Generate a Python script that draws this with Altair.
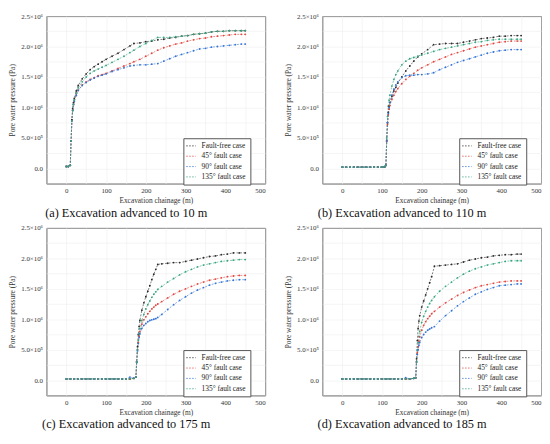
import altair as alt
import pandas as pd

FONT = "Liberation Serif"
CASES = ["Fault-free case", "45° fault case", "90° fault case", "135° fault case"]
COLORS = ["#2b2b2b", "#e2463f", "#3374d6", "#35a57c"]

# ---------- (a) Excavation advanced to 10 m ----------
XA = [0, 5, 10, 12, 14, 16, 18, 20, 25, 30, 40, 50, 60, 70, 80, 90, 100,
      115, 130, 145, 160, 170, 185, 200, 215, 230, 245, 260, 275, 290, 305,
      320, 335, 350, 365, 380, 395, 410, 425, 440, 450]
A_FREE = [0.03, 0.03, 0.05, 0.45, 0.80, 0.98, 1.08, 1.15, 1.27, 1.36,
          1.47, 1.55, 1.62, 1.67, 1.71, 1.75, 1.79,
          1.84, 1.89, 1.95, 2.01, 2.05, 2.06, 2.08,
          2.09, 2.11, 2.12, 2.14, 2.15, 2.17, 2.18,
          2.20, 2.21, 2.22, 2.24, 2.25, 2.25, 2.26,
          2.26, 2.26, 2.26]
A_45 = [0.03, 0.03, 0.05, 0.45, 0.78, 0.95, 1.05, 1.10, 1.20, 1.28,
        1.37, 1.42, 1.46, 1.49, 1.52, 1.54, 1.56,
        1.60, 1.64, 1.68, 1.72, 1.75, 1.79, 1.84,
        1.89, 1.94, 1.98, 2.01, 2.04, 2.06, 2.09,
        2.11, 2.13, 2.14, 2.16, 2.17, 2.18, 2.19,
        2.20, 2.20, 2.20]
A_90 = [0.03, 0.03, 0.05, 0.45, 0.78, 0.95, 1.05, 1.10, 1.20, 1.28,
        1.36, 1.41, 1.45, 1.48, 1.51, 1.53, 1.55,
        1.59, 1.62, 1.65, 1.68, 1.69, 1.70, 1.70,
        1.71, 1.72, 1.76, 1.80, 1.84, 1.87, 1.90,
        1.93, 1.96, 1.97, 1.99, 2.00, 2.01, 2.02,
        2.03, 2.04, 2.04]
A_135 = [0.03, 0.03, 0.05, 0.45, 0.78, 0.95, 1.05, 1.12, 1.24, 1.32,
         1.42, 1.50, 1.56, 1.60, 1.63, 1.66, 1.69,
         1.74, 1.79, 1.84, 1.90, 1.94, 2.00, 2.05,
         2.10, 2.15, 2.15, 2.15, 2.16, 2.17, 2.18,
         2.20, 2.21, 2.22, 2.24, 2.25, 2.25, 2.26,
         2.26, 2.26, 2.26]

# ---------- (b) Excavation advanced to 110 m ----------
XB = [0, 10, 20, 30, 40, 50, 60, 70, 80, 90, 100,
      105, 108, 110, 112, 114, 116, 118, 120,
      125, 130, 135, 140,
      150, 160, 170, 180, 190, 200,
      215, 230, 245, 260, 275, 290, 305, 320,
      335, 350, 365, 380, 395, 410, 425, 440, 450]
B_FREE = [0.02, 0.02, 0.02, 0.02, 0.02, 0.02, 0.02, 0.02, 0.02, 0.02, 0.02,
          0.025, 0.03, 0.05, 0.45, 0.75, 0.92, 1.02, 1.08,
          1.18, 1.27, 1.33, 1.40,
          1.50, 1.60, 1.68, 1.76, 1.83, 1.88,
          1.95, 2.03, 2.04, 2.05, 2.05, 2.05, 2.07, 2.09,
          2.11, 2.13, 2.14, 2.15, 2.17, 2.17, 2.18, 2.18, 2.18]
B_45 = [0.02, 0.02, 0.02, 0.02, 0.02, 0.02, 0.02, 0.02, 0.02, 0.02, 0.02,
        0.025, 0.03, 0.05, 0.45, 0.72, 0.88, 0.97, 1.03,
        1.13, 1.20, 1.26, 1.31,
        1.39, 1.46, 1.51, 1.56, 1.61, 1.65,
        1.70, 1.75, 1.79, 1.83, 1.87, 1.90, 1.93, 1.96,
        1.99, 2.01, 2.03, 2.05, 2.07, 2.08, 2.09, 2.09, 2.09]
B_90 = [0.02, 0.02, 0.02, 0.02, 0.02, 0.02, 0.02, 0.02, 0.02, 0.02, 0.02,
        0.025, 0.03, 0.05, 0.45, 0.75, 0.90, 1.00, 1.08,
        1.20, 1.30, 1.37, 1.42,
        1.49, 1.52, 1.53, 1.53, 1.54, 1.54,
        1.55, 1.57, 1.62, 1.66, 1.70, 1.74, 1.77, 1.80,
        1.83, 1.86, 1.89, 1.91, 1.93, 1.94, 1.95, 1.95, 1.95]
B_135 = [0.02, 0.02, 0.02, 0.02, 0.02, 0.02, 0.02, 0.02, 0.02, 0.02, 0.02,
         0.025, 0.03, 0.05, 0.50, 0.85, 1.02, 1.12, 1.20,
         1.35, 1.46, 1.54, 1.60,
         1.70, 1.76, 1.80, 1.82, 1.84, 1.86,
         1.89, 1.92, 1.95, 1.97, 1.99, 2.01, 2.03, 2.05,
         2.07, 2.08, 2.10, 2.11, 2.12, 2.12, 2.12, 2.12, 2.12]

# ---------- (c) Excavation advanced to 175 m ----------
XC = [0, 10, 20, 30, 40, 50, 60, 70, 80, 90, 100, 110, 120, 130, 140, 150, 160, 170,
      175, 177, 179, 181, 183, 185, 190, 195, 200, 205, 210, 215, 220, 225, 230,
      240, 255, 270, 285, 300, 315, 330, 345, 360, 375, 390, 405, 420, 435, 450]
C_FREE = [0.02, 0.02, 0.02, 0.02, 0.02, 0.02, 0.02, 0.02, 0.02, 0.02, 0.02, 0.02, 0.02, 0.02, 0.02, 0.02, 0.02, 0.03,
          0.05, 0.30, 0.55, 0.75, 0.88, 0.98, 1.15, 1.27, 1.37, 1.46, 1.55, 1.65, 1.74, 1.82, 1.90,
          1.91, 1.92, 1.93, 1.93, 1.95, 1.97, 1.99, 2.01, 2.03, 2.04, 2.06, 2.07, 2.09, 2.09, 2.09]
C_45 = [0.02, 0.02, 0.02, 0.02, 0.02, 0.02, 0.02, 0.02, 0.02, 0.02, 0.02, 0.02, 0.02, 0.02, 0.02, 0.02, 0.02, 0.03,
        0.05, 0.30, 0.50, 0.62, 0.72, 0.80, 0.92, 0.99, 1.04, 1.09, 1.13, 1.17, 1.20, 1.23, 1.25,
        1.29, 1.35, 1.41, 1.46, 1.50, 1.54, 1.58, 1.61, 1.64, 1.66, 1.68, 1.70, 1.71, 1.72, 1.72]
C_90 = [0.02, 0.02, 0.02, 0.02, 0.02, 0.02, 0.02, 0.02, 0.02, 0.02, 0.02, 0.02, 0.02, 0.02, 0.02, 0.02, 0.05, 0.03,
        0.05, 0.30, 0.48, 0.60, 0.70, 0.76, 0.85, 0.90, 0.93, 0.96, 0.98, 0.99, 1.00, 1.01, 1.03,
        1.08, 1.16, 1.24, 1.31, 1.37, 1.43, 1.48, 1.52, 1.56, 1.59, 1.61, 1.63, 1.64, 1.65, 1.65]
C_135 = [0.02, 0.02, 0.02, 0.02, 0.02, 0.02, 0.02, 0.02, 0.02, 0.02, 0.02, 0.02, 0.02, 0.02, 0.02, 0.02, 0.02, 0.03,
         0.05, 0.30, 0.50, 0.65, 0.76, 0.85, 0.98, 1.08, 1.17, 1.24, 1.30, 1.36, 1.41, 1.45, 1.49,
         1.54, 1.61, 1.67, 1.73, 1.78, 1.82, 1.86, 1.89, 1.91, 1.93, 1.95, 1.96, 1.97, 1.98, 1.98]

# ---------- (d) Excavation advanced to 185 m ----------
XD = [0, 10, 20, 30, 40, 50, 60, 70, 80, 90, 100, 110, 120, 130, 140, 150, 160, 170, 180,
      185, 187, 189, 191, 193, 195, 200, 205, 210, 215, 220, 225, 232,
      245, 260, 275, 290, 305, 320, 335, 350, 365, 380, 395, 410, 425, 440, 450]
D_FREE = [0.02, 0.02, 0.02, 0.02, 0.02, 0.02, 0.02, 0.02, 0.02, 0.02, 0.02, 0.02, 0.02, 0.02, 0.02, 0.02, 0.02, 0.02, 0.03,
          0.04, 0.35, 0.65, 0.85, 0.97, 1.06, 1.20, 1.30, 1.40, 1.50, 1.60, 1.70, 1.87,
          1.88, 1.89, 1.90, 1.91, 1.94, 1.97, 1.99, 2.01, 2.02, 2.04, 2.05, 2.06, 2.06, 2.07, 2.07]
D_45 = [0.02, 0.02, 0.02, 0.02, 0.02, 0.02, 0.02, 0.02, 0.02, 0.02, 0.02, 0.02, 0.02, 0.02, 0.02, 0.02, 0.02, 0.02, 0.03,
        0.04, 0.30, 0.45, 0.55, 0.64, 0.71, 0.82, 0.90, 0.96, 1.01, 1.05, 1.09, 1.13,
        1.20, 1.27, 1.33, 1.39, 1.44, 1.48, 1.52, 1.55, 1.57, 1.59, 1.61, 1.62, 1.63, 1.63, 1.63]
D_90 = [0.02, 0.02, 0.02, 0.02, 0.02, 0.02, 0.02, 0.02, 0.02, 0.02, 0.02, 0.02, 0.02, 0.02, 0.02, 0.02, 0.04, 0.02, 0.03,
        0.04, 0.30, 0.42, 0.50, 0.57, 0.62, 0.70, 0.75, 0.79, 0.82, 0.84, 0.86, 0.88,
        0.97, 1.06, 1.14, 1.22, 1.29, 1.35, 1.41, 1.45, 1.49, 1.52, 1.55, 1.56, 1.57, 1.58, 1.58]
D_135 = [0.02, 0.02, 0.02, 0.02, 0.02, 0.02, 0.02, 0.02, 0.02, 0.02, 0.02, 0.02, 0.02, 0.02, 0.02, 0.02, 0.02, 0.02, 0.03,
         0.04, 0.30, 0.50, 0.62, 0.72, 0.80, 0.95, 1.05, 1.13, 1.20, 1.26, 1.31, 1.37,
         1.46, 1.54, 1.61, 1.68, 1.74, 1.79, 1.83, 1.86, 1.89, 1.91, 1.93, 1.95, 1.96, 1.96, 1.96]

Y_TICKS = [-250000, 0, 250000, 500000, 750000, 1000000, 1250000, 1500000,
           1750000, 2000000, 2250000, 2500000]
X_TICKS = [-50, 0, 50, 100, 150, 200, 250, 300, 350, 400, 450, 500]

Y_LABEL = ("datum.value == 0 ? '0.0' : (datum.value < 0 || datum.value % 500000 != 0) ? '' : "
           "datum.value < 1000000 ? format(datum.value / 100000, '.1f') + '×10⁵' : "
           "format(datum.value / 1000000, '.1f') + '×10⁶'")
X_LABEL = "(datum.value >= 0 && datum.value % 100 == 0) ? datum.value : ''"

W, H = 222, 170


def build_df(xs, series):
    rows = []
    for case, ys in zip(CASES, series):
        for i, (x, y) in enumerate(zip(xs, ys)):
            rows.append({"x": x, "p": y * 1e6, "case": case, "order": i})
    return pd.DataFrame(rows)


def panel(xs, series, caption):
    df = build_df(xs, series)
    return alt.Chart(df).mark_line(
        strokeDash=[2, 1.5], strokeWidth=0.6, clip=True,
        point=alt.OverlayMarkDef(filled=True, size=3.5),
    ).encode(
        x=alt.X("x:Q", scale=alt.Scale(domain=[-50, 500], nice=False, zero=False),
                axis=alt.Axis(title="Excavation chainage (m)", values=X_TICKS,
                              labelExpr=X_LABEL, labelPadding=3, titlePadding=3)),
        y=alt.Y("p:Q", scale=alt.Scale(domain=[-250000, 2500000], nice=False, zero=False),
                axis=alt.Axis(title="Pore water pressure (Pa)", values=Y_TICKS,
                              labelExpr=Y_LABEL, labelPadding=4, titlePadding=4)),
        color=alt.Color("case:N", sort=CASES,
                        scale=alt.Scale(domain=CASES, range=COLORS),
                        legend=alt.Legend(title=None, orient="none", legendX=139, legendY=H - 46,
                                          strokeColor="#555", fillColor="white", padding=4,
                                          labelFont=FONT, labelFontSize=7.5, labelColor="#222",
                                          labelOffset=7,
                                          symbolType="M-1.6,0H1.6", symbolStrokeWidth=0.8,
                                          symbolDash=[1.5, 1.5], symbolSize=36,
                                          rowPadding=1.5, labelLimit=120)),
        order="order:Q",
    ).properties(
        width=W, height=H,
        title=alt.TitleParams(caption, orient="bottom", anchor="middle", frame="group",
                              dx=-30, offset=3, font=FONT, fontSize=12.5,
                              fontWeight="normal", color="#111"),
    )


pa = panel(XA, [A_FREE, A_45, A_90, A_135], "(a) Excavation advanced to 10 m")
pb = panel(XB, [B_FREE, B_45, B_90, B_135], "(b) Excavation advanced to 110 m")
pc = panel(XC, [C_FREE, C_45, C_90, C_135], "(c) Excavation advanced to 175 m")
pd_ = panel(XD, [D_FREE, D_45, D_90, D_135], "(d) Excavation advanced to 185 m")

row1 = alt.hconcat(pa, pb, spacing=18).resolve_scale(color="independent").resolve_legend(color="independent")
row2 = alt.hconcat(pc, pd_, spacing=18).resolve_scale(color="independent").resolve_legend(color="independent")

chart = alt.vconcat(row1, row2, spacing=3).resolve_scale(
    color="independent").resolve_legend(color="independent").properties(
    padding={"left": 0, "top": 0, "right": 0, "bottom": 0}
).configure(
    background="white",
).configure_view(
    stroke="#333", strokeWidth=1,
).configure_axis(
    domain=False, ticks=False, grid=True, gridColor="#eeeeee", gridWidth=0.6,
    labelFont=FONT, labelFontSize=7, labelColor="#333",
    titleFont=FONT, titleFontSize=7.5, titleFontWeight="normal", titleColor="#333",
)

chart.save("out.html", embed_options={"renderer": "svg", "actions": False})
